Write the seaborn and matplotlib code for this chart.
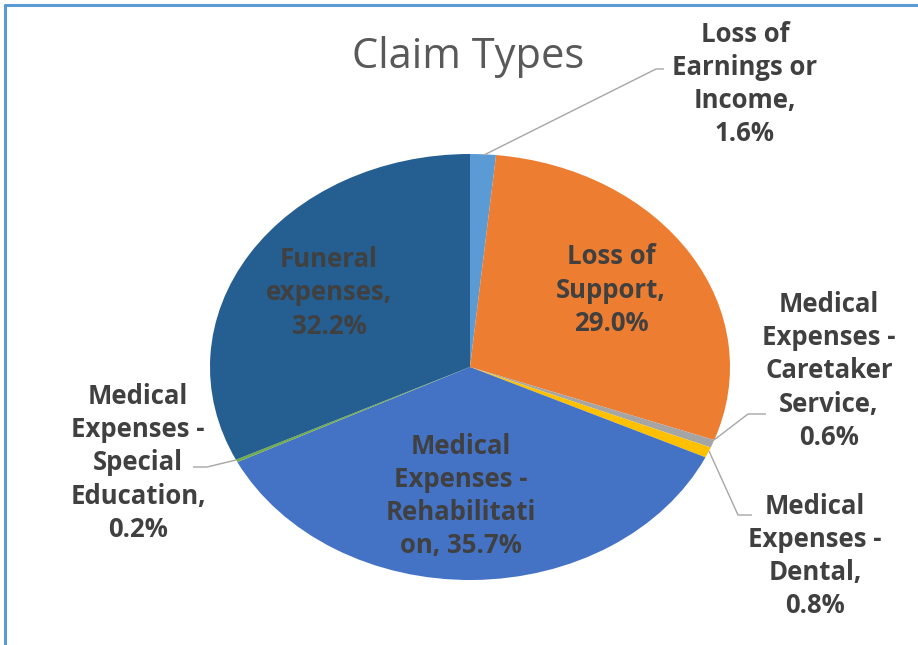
import matplotlib
matplotlib.use("Agg")
import matplotlib.pyplot as plt
from matplotlib.lines import Line2D
import seaborn as sns

sns.set_theme(style="white")
plt.rcParams["font.family"] = ["Open Sans", "DejaVu Sans"]

# Claim type shares (percent), clockwise from 12 o'clock
categories = [
    "Loss of Earnings or Income",
    "Loss of Support",
    "Medical Expenses - Caretaker Service",
    "Medical Expenses - Dental",
    "Medical Expenses - Rehabilitation",
    "Medical Expenses - Special Education",
    "Funeral expenses",
]
shares = [1.6, 29.0, 0.6, 0.8, 35.7, 0.2, 32.2]
colors = ["#5B9BD5", "#ED7D31", "#A5A5A5", "#FFC000", "#4472C4", "#70AD47", "#255E91"]
label_templates = [
    "Loss of\nEarnings or\nIncome,\n{}",
    "Loss of\nSupport,\n{}",
    "Medical\nExpenses -\nCaretaker\nService,\n{}",
    "Medical\nExpenses -\nDental,\n{}",
    "Medical\nExpenses -\nRehabilitati\non, {}",
    "Medical\nExpenses -\nSpecial\nEducation,\n{}",
    "Funeral\nexpenses,\n{}",
]

W, H = 918, 645
fig = plt.figure(figsize=(W / 100, H / 100), dpi=100)
fig.patch.set_facecolor("white")
ax = fig.add_axes([0, 0, 1, 1])

# pie geometry in pixels (slightly wider than tall)
cx, cy, rx, ry = 470, 367, 260, 213


def px(x):
    return (x - cx) / rx


def py(y):
    return (cy - y) / ry


ax.pie(shares, colors=colors, startangle=90, counterclock=False,
       radius=1.0, wedgeprops=dict(linewidth=0))
ax.set_aspect("auto")
ax.set_xlim(px(0), px(W))
ax.set_ylim(py(H), py(0))
ax.axis("off")

text_color = "#404040"
lead_color = "#A6A6A6"
fs = 18.5

# label centres (pixel positions)
label_pos = [
    (745, 84),
    (611, 290),
    (829, 371),
    (815, 556),
    (461, 496),
    (138, 463),
    (329, 293),
]
for tmpl, v, (lx, ly) in zip(label_templates, shares, label_pos):
    ax.text(px(lx), py(ly), tmpl.format(f"{v:.1f}%"), ha="center", va="center",
            multialignment="center", fontsize=fs, fontweight="bold",
            color=text_color, linespacing=1.3)

# leader lines for the small slices
leaders = [
    [(484, 155), (656, 69), (664, 69)],
    [(714, 440), (748, 414), (766, 414)],
    [(709, 451), (738, 515), (752, 515)],
    [(236, 460), (207, 467), (193, 467)],
]
for pts in leaders:
    xs = [px(p[0]) for p in pts]
    ys = [py(p[1]) for p in pts]
    ax.plot(xs, ys, color=lead_color, lw=1.0, solid_capstyle="butt")

ax.text(px(468), py(57), "Claim Types", ha="center", va="center",
        fontsize=30, color="#595959")

# chart frame edges
fig.add_artist(Line2D([5 / W, 1], [1 - 5 / H, 1 - 5 / H], color="#5B9BD5", lw=2.2))
fig.add_artist(Line2D([5 / W, 5 / W], [0, 1 - 5 / H], color="#5B9BD5", lw=2.2))

fig.savefig("out.png", dpi=100, facecolor="white")
